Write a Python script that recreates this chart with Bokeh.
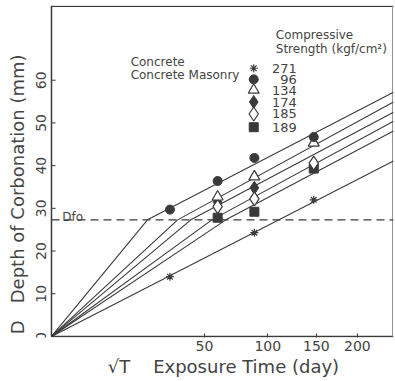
import math
from bokeh.plotting import figure
from bokeh.models import Range1d, FixedTicker, Label
from bokeh.embed import file_html
from bokeh.resources import INLINE

# ---------------- data ----------------
# exposure time in days, depth of carbonation in mm
T_96 = [30, 59, 88, 147]
D_96 = [29.7, 36.4, 41.8, 46.7]
T_134 = [59, 88, 147]
D_134 = [32.7, 37.4, 45.3]
T_174 = [59, 88, 147]
D_174 = [31.4, 34.8, 39.9]
T_185 = [59, 88, 147]
D_185 = [30.4, 32.2, 40.6]
T_189 = [59, 88, 147]
D_189 = [27.8, 29.2, 39.3]
T_271 = [30, 88, 147]
D_271 = [14.0, 24.3, 32.0]

Dfo = 27.3
T_max = 250.0
# broken lines: origin -> (break T, Dfo) -> (T_max, end D)
line_break_T = [19.7, 34.0, 41.5, 55.0, 65.0]
line_end_D = [57.2, 54.9, 52.5, 50.4, 48.1]
# straight line for the 271 concrete
line271_end_D = 41.1

x_tick_days = [50, 100, 150, 200]
y_ticks = [0, 10, 20, 30, 40, 50, 60]
y_max = 77.5

strength_labels = ["271", "96", "134", "174", "185", "189"]
legend_D = [62.8, 60.2, 57.7, 54.9, 52.1, 49.0]
legend_marker_s = 9.35
legend_text_s = 11.34

INK = "#3a3a3a"
TXT = "#444444"
FONT = "DejaVu Sans"

sq = lambda arr: [math.sqrt(t) for t in arr]
s_max = math.sqrt(T_max)
left_pad = 0.97      # room (in sqrt-day units) left of the D axis for its rotated labels
bottom_pad = 0.25

p = figure(width=395, height=381,
           x_range=Range1d(-left_pad, s_max), y_range=Range1d(-bottom_pad, y_max),
           output_backend="svg", toolbar_location=None,
           min_border_left=30, min_border_right=2, min_border_top=5,
           min_border_bottom=44)
p.grid.visible = False
p.outline_line_color = None
p.background_fill_color = "white"
p.border_fill_color = "white"

# x axis (ticks + labels), its line drawn by hand from the origin
p.xaxis.ticker = FixedTicker(ticks=[math.sqrt(t) for t in x_tick_days])
p.xaxis.major_label_overrides = {math.sqrt(t): str(t) for t in x_tick_days}
p.yaxis.ticker = FixedTicker(ticks=y_ticks)
for ax in (p.xaxis, p.yaxis):
    ax.axis_line_color = None
    ax.major_tick_line_color = INK
    ax.major_tick_in = 4
    ax.major_tick_out = 0
    ax.minor_tick_line_color = None
    ax.major_label_text_font = FONT
    ax.major_label_text_font_size = "14px"
    ax.major_label_text_color = TXT
    ax.axis_label_text_font = FONT
    ax.axis_label_text_font_size = "18px"
    ax.axis_label_text_font_style = "normal"
    ax.axis_label_text_color = TXT
p.yaxis.major_tick_line_color = None
p.yaxis.major_label_text_font_size = "1px"
p.yaxis.major_label_text_alpha = 0
p.yaxis.major_label_standoff = 0
p.yaxis.axis_label_standoff = 3
p.xaxis.major_label_standoff = 3
p.xaxis.axis_label_standoff = 2
p.xaxis.axis_label = ("\u00a0\u00a0\u00a0\u00a0\u221aT\u00a0\u00a0\u00a0\u00a0"
                      "Exposure Time (day)")
p.yaxis.axis_label = ("D\u00a0\u00a0\u00a0Depth of Corbonation (mm)"
                      "\u00a0\u00a0\u00a0\u00a0\u00a0\u00a0\u00a0\u00a0")

# frame: D axis, time axis, top and right border
p.line([0, 0], [0, y_max], line_color=INK, line_width=1.5)
p.line([0, s_max], [0, 0], line_color=INK, line_width=1.5)
p.line([0, s_max], [y_max - 0.2, y_max - 0.2], line_color=INK, line_width=1.2)
p.line([s_max - 0.04, s_max - 0.04], [0, y_max], line_color="#888888", line_width=1)

# D-axis ticks (inward) and rotated tick labels (reading upwards)
p.segment(x0=[0] * len(y_ticks), y0=y_ticks, x1=[0.19] * len(y_ticks), y1=y_ticks,
          line_color=INK, line_width=1)
for t in y_ticks:
    p.add_layout(Label(x=-0.27, y=t, text=str(t), angle=90, angle_units="deg",
                       text_font=FONT, text_font_size="14px", text_color=TXT,
                       text_align="center", text_baseline="bottom"))

# Dfo dashed line
p.line([0, s_max], [Dfo, Dfo], line_color=INK, line_width=1.2, line_dash="8 5")
p.add_layout(Label(x=0.5, y=Dfo + 0.6, text="Dfo", text_font=FONT,
                   text_font_size="12px", text_color=TXT, text_baseline="alphabetic"))

# fitted lines
for tb, de in zip(line_break_T, line_end_D):
    p.line(sq([0, tb, T_max]), [0, Dfo, de], line_color=INK, line_width=1.1)
p.line(sq([0, T_max]), [0, line271_end_D], line_color=INK, line_width=1.1)

# markers
styles = [
    dict(marker="asterisk", size=8, fill_color=None, line_color=INK, line_width=1.2),
    dict(marker="circle", size=9, fill_color=INK, line_color=INK),
    dict(marker="triangle", size=11, fill_color="white", line_color=INK, line_width=1.2),
    dict(marker="diamond", size=13, fill_color=INK, line_color=INK),
    dict(marker="diamond", size=14, fill_color="white", line_color=INK, line_width=1.2),
    dict(marker="square", size=9, fill_color=INK, line_color=INK),
]
series = [(T_271, D_271), (T_96, D_96), (T_134, D_134), (T_174, D_174),
          (T_185, D_185), (T_189, D_189)]
draw_order = [0, 5, 3, 4, 2, 1]
for i in draw_order:
    T, D = series[i]
    p.scatter(sq(T), D, **styles[i])

# legend
for i, (lab, d) in enumerate(zip(strength_labels, legend_D)):
    p.scatter([legend_marker_s], [d], **styles[i])
    p.add_layout(Label(x=legend_text_s, y=d, text=lab, text_font=FONT,
                       text_font_size="13px", text_color=TXT,
                       text_align="right", text_baseline="middle"))

for txt, s, d in [("Concrete", 3.66, 64.2), ("Concrete Masonry", 3.66, 61.2)]:
    p.add_layout(Label(x=s, y=d, text=txt, text_font=FONT, text_font_size="12px",
                       text_color=TXT, text_baseline="middle"))
for txt, s, d in [("Compressive", 10.37, 70.7), ("Strength (kgf/cm\u00b2)", 10.37, 67.2)]:
    p.add_layout(Label(x=s, y=d, text=txt, text_font=FONT, text_font_size="12px",
                       text_color=TXT, text_baseline="middle"))

open("out.html", "w").write(file_html(p, INLINE))
